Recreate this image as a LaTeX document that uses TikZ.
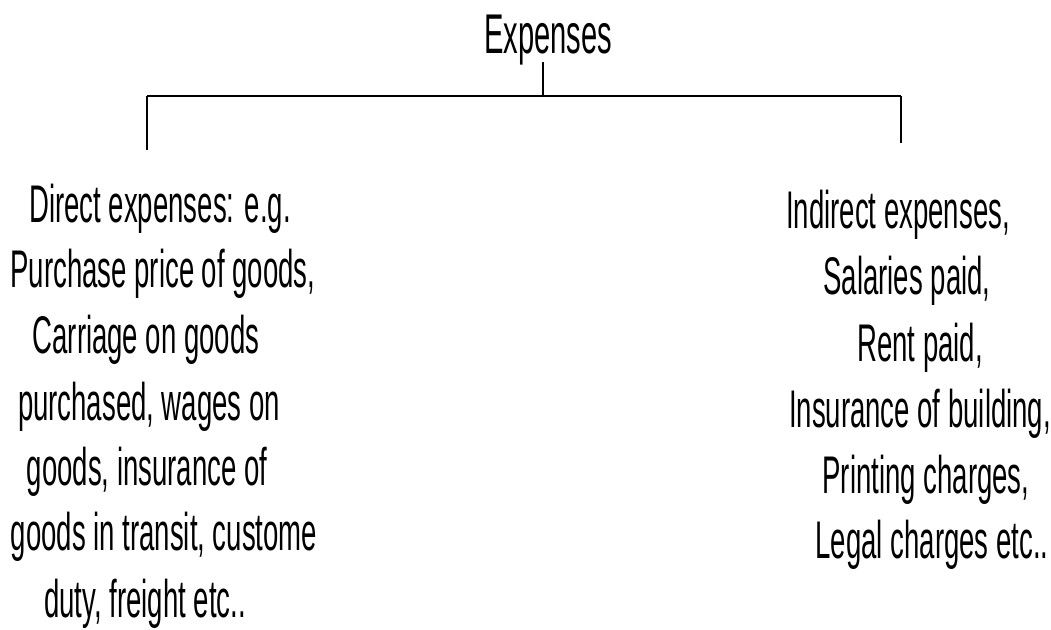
\documentclass[tikz,border=0pt]{standalone}
\usepackage{fontspec}
\newfontfamily\nf[FakeStretch=0.52]{Liberation Sans}
\begin{document}
\begin{tikzpicture}[x=1pt,y=-1pt,
  txt/.style={font=\nf\fontsize{53}{60}\selectfont, inner sep=0pt, anchor=base},
  bar/.style={line width=2pt},
  tick/.style={line width=1.3pt}]
\useasboundingbox[fill=white] (0,0) rectangle (1051,629);
\node[txt, font=\nf\fontsize{56}{60}\selectfont] (root) at (548,53) {Expenses};
\coordinate (top) at (543,62);
\coordinate (mid) at (543,96);
\coordinate (lt) at (147,96);
\coordinate (rt) at (901,96);
\coordinate (le) at (147,150);
\coordinate (re) at (901,143);
\draw[tick] (top) -- (mid);
\draw[bar] (lt) -- (rt);
\draw[tick] (lt) -- (le);
\draw[tick] (rt) -- (re);
% left branch
\node[txt] (l1) at (160,222) {Direct expenses: e.g.};
\node[txt] (l2) at (163,287) {Purchase price of goods,};
\node[txt] (l3) at (146,353) {Carriage on goods};
\node[txt] (l4) at (149,420) {purchased, wages on};
\node[txt] (l5) at (147,485) {goods, insurance of};
\node[txt] (l6) at (164,550) {goods in transit, custome};
\node[txt] (l7) at (145,617) {duty, freight etc..};
% right branch
\node[txt] (r1) at (898,228) {Indirect expenses,};
\node[txt] (r2) at (907,294) {Salaries paid,};
\node[txt] (r3) at (920,361) {Rent paid,};
\node[txt] (r4) at (920,427) {Insurance of building,};
\node[txt] (r5) at (926,493) {Printing charges,};
\node[txt] (r6) at (932,558) {Legal charges etc..};
\end{tikzpicture}
\end{document}
